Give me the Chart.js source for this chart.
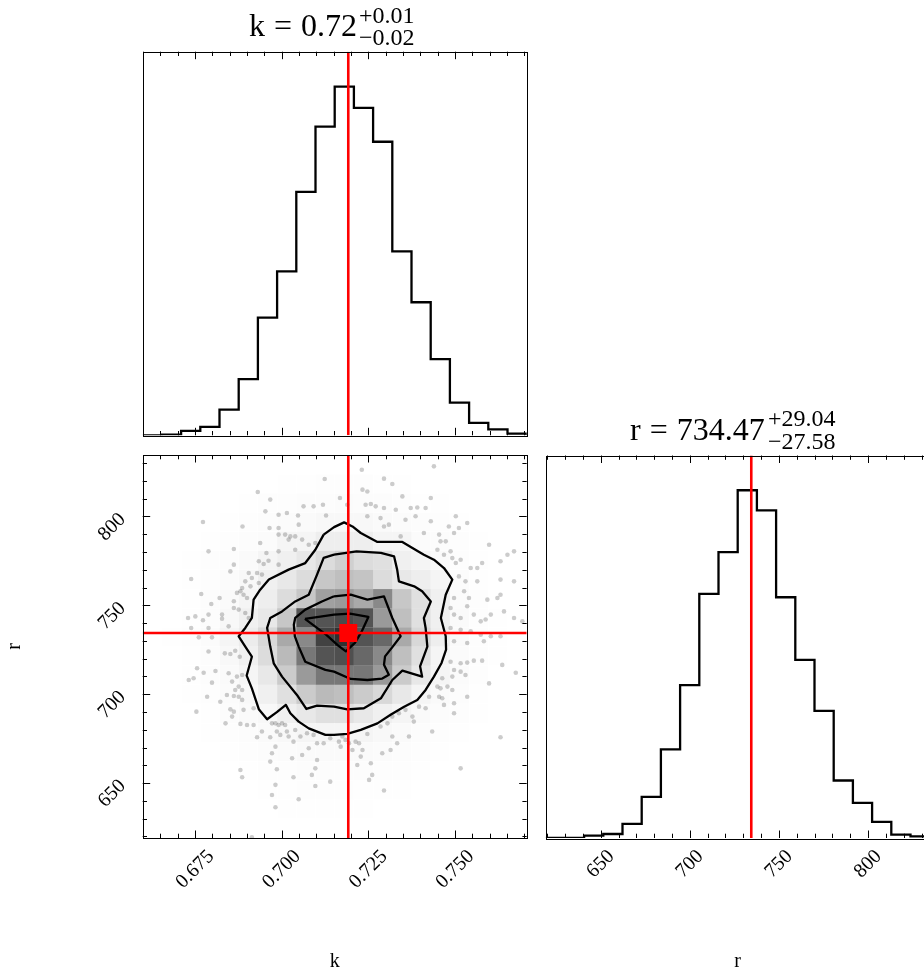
<!DOCTYPE html>
<html>
<head>
<meta charset="utf-8">
<script src="https://cdn.jsdelivr.net/npm/chart.js@4.4.1/dist/chart.umd.min.js"></script>
<style>
  html, body { margin: 0; padding: 0; background: #fff; overflow: hidden; }
  #wrap { position: relative; width: 924px; height: 977px; overflow: hidden; }
  canvas { position: absolute; left: 0; top: 0; }
  .t { position: absolute; font-family: 'Liberation Serif', serif; white-space: nowrap; color: #000; }
  .big { font-size: 32px; line-height: 32px; word-spacing: 1px; }
  .small { font-size: 24px; line-height: 24px; }
</style>
</head>
<body>
<div id="wrap">
  <canvas id="histK" width="924" height="977"></canvas>
  <canvas id="corner2d" width="924" height="977"></canvas>
  <canvas id="histR" width="940" height="977"></canvas>

  <div class="t big" style="left:249px;top:9px">k = 0.72</div>
  <div class="t small" style="left:359px;top:3px">+0.01</div>
  <div class="t small" style="left:359px;top:25px">−0.02</div>

  <div class="t big" style="left:630px;top:413px">r = 734.47</div>
  <div class="t small" style="left:768px;top:406px">+29.04</div>
  <div class="t small" style="left:768px;top:429px">−27.58</div>
</div>
<script>
// rangos y valores centrales
const kRange = [0.65992, 0.77065];
const rRange = [619.1, 834.6];
const nBins = 20;
const kTrue = 0.7192;
const rTrue = 734.47;

// etiquetas de los ejes
const kTicks = [0.675, 0.700, 0.725, 0.750];
const rTicks = [650, 700, 750, 800];

// histogramas 1D (cuentas por bin)
const kCounts = [0, 2, 13, 25, 77, 168, 352, 490, 728, 923, 1043, 979, 878, 550, 398, 228, 98, 37, 18, 5];
const rCounts = [0, 0, 7, 12, 42, 123, 265, 457, 730, 855, 1040, 980, 720, 533, 380, 172, 105, 48, 10, 5];

// densidad 2D relativa (0-100), filas de r alto a r bajo, columnas de k bajo a k alto
const density2d = [
  [0,0,0,0,0,0,0,0,0,0,0,0,0,0,0,0,0,0,0,0],
  [0,0,0,0,0,0,0,5,5,8,8,8,5,5,0,0,0,0,0,0],
  [0,0,0,0,0,5,8,8,10,10,12,10,10,8,5,5,0,0,0,0],
  [0,0,0,0,5,8,10,12,14,16,17,16,14,12,10,8,5,0,0,0],
  [0,0,0,5,8,10,12,20,20,26,26,26,20,20,12,10,8,5,0,0],
  [0,0,5,8,10,14,20,24,30,37,43,37,35,24,20,14,8,5,0,0],
  [0,0,5,8,12,17,24,30,37,47,50,48,37,30,26,20,10,5,0,0],
  [0,0,5,10,14,20,26,37,47,61,63,58,68,47,35,24,12,8,0,0],
  [0,0,5,10,17,24,30,47,82,82,84,82,63,50,35,24,14,8,5,0],
  [0,5,8,12,20,27,39,58,68,86,90,82,77,58,39,26,14,8,5,0],
  [0,0,5,10,17,24,37,52,73,82,83,77,68,50,35,20,12,8,5,0],
  [0,0,5,10,14,20,30,45,63,73,73,73,63,45,30,20,12,8,0,0],
  [0,0,5,8,12,17,24,35,45,52,50,45,39,30,20,14,10,5,0,0],
  [0,0,0,5,10,14,17,24,30,35,35,30,24,20,14,10,8,5,0,0],
  [0,0,0,5,8,10,14,17,20,20,20,20,17,14,10,8,5,0,0,0],
  [0,0,0,0,5,8,10,12,14,14,14,14,12,10,8,5,0,0,0,0],
  [0,0,0,0,0,5,8,8,10,10,10,10,8,8,5,0,0,0,0,0],
  [0,0,0,0,0,0,5,5,8,8,8,5,5,5,0,0,0,0,0,0],
  [0,0,0,0,0,0,0,5,5,5,5,5,0,0,0,0,0,0,0,0],
  [0,0,0,0,0,0,0,0,0,0,0,0,0,0,0,0,0,0,0,0]
];

// contornos (k, r), del exterior al interior
const contour1 = [[0.7121,789.8],[0.7151,794.0],[0.7180,796.7],[0.7204,794.4],[0.7228,790.7],[0.7276,785.7],[0.7348,785.7],[0.7377,782.3],[0.7410,778.5],[0.7439,775.7],[0.7468,771.0],[0.7492,764.5],[0.7473,756.0],[0.7459,742.9],[0.7473,732.6],[0.7474,725.1],[0.7461,717.6],[0.7439,709.9],[0.7415,702.4],[0.7391,696.8],[0.7353,693.0],[0.7314,688.4],[0.7276,683.6],[0.7228,679.9],[0.7189,677.7],[0.7151,677.1],[0.7126,677.1],[0.7078,680.8],[0.7049,684.6],[0.7025,689.3],[0.7012,694.0],[0.6986,689.9],[0.6958,685.9],[0.6934,691.6],[0.6914,703.3],[0.6899,710.5],[0.6914,721.1],[0.6895,726.8],[0.6876,732.6],[0.6895,737.3],[0.6914,742.9],[0.6919,753.2],[0.6938,758.8],[0.6963,764.5],[0.7020,770.1],[0.7068,773.8],[0.7097,781.3],[0.7121,789.8]];
const contour2 = [[0.7151,778.5],[0.7216,780.4],[0.7286,779.5],[0.7324,777.6],[0.7333,770.1],[0.7338,763.5],[0.7382,760.7],[0.7405,757.9],[0.7430,752.2],[0.7410,742.9],[0.7415,737.3],[0.7420,726.8],[0.7399,715.7],[0.7405,709.9],[0.7348,713.3],[0.7319,708.0],[0.7286,697.7],[0.7237,692.1],[0.7189,691.5],[0.7151,693.0],[0.7102,693.6],[0.7071,691.7],[0.7044,699.6],[0.7001,709.9],[0.6977,717.4],[0.6967,726.8],[0.6958,737.3],[0.6967,742.9],[0.7001,746.6],[0.7039,752.2],[0.7078,756.0],[0.7102,767.3],[0.7121,776.7],[0.7151,778.5]];
const contour3 = [[0.7151,755.1],[0.7199,756.0],[0.7247,753.2],[0.7295,755.1],[0.7319,742.9],[0.7343,732.6],[0.7318,726.2],[0.7298,721.3],[0.7295,716.6],[0.7309,711.0],[0.7290,708.8],[0.7247,708.0],[0.7199,708.6],[0.7151,712.7],[0.7126,713.7],[0.7068,718.3],[0.7049,726.8],[0.7038,732.6],[0.7035,739.1],[0.7039,742.9],[0.7068,747.6],[0.7116,752.2],[0.7151,755.1]];
const contour4 = [[0.7067,742.4],[0.7151,744.8],[0.7197,745.3],[0.7250,743.5],[0.7231,735.4],[0.7211,728.9],[0.7185,724.1],[0.7163,727.3],[0.7128,733.5],[0.7067,742.4]];

// muestras visibles fuera del contorno exterior
const sampleK = [
  0.7124,0.6931,0.6967,0.7063,0.7092,0.7119,0.6953,0.6991,0.7015,0.7047,0.7128,0.6773,0.6887,0.6965,0.6991,0.7049,0.6991,0.7010,0.7025,0.7039,
  0.7059,0.7078,0.7097,0.7020,0.6938,0.6956,0.6789,0.6862,0.6991,0.7039,0.6934,0.6962,0.6948,0.6991,0.6862,0.6852,0.6905,0.6929,0.6943,0.6934,
  0.6914,0.6895,0.6910,0.6886,0.6881,0.6890,0.6871,0.6862,0.6900,0.6739,0.6768,0.6821,0.6797,0.6789,0.6828,0.6828,0.6862,0.6876,0.6895,0.6905,
  0.6730,0.6751,0.6773,0.6739,0.6789,0.6847,0.6761,0.6799,
  0.7231,0.7439,0.7295,0.7319,0.7233,0.7247,0.7348,0.7430,0.7168,0.7189,0.7242,0.7257,0.7271,0.7295,0.7329,0.7372,0.7391,0.7415,0.7247,0.7285,
  0.7357,0.7386,0.7430,0.7502,0.7535,0.7295,0.7309,0.7343,0.7410,0.7454,0.7482,0.7497,0.7511,0.7458,0.7473,0.7598,0.7449,0.7468,0.7487,0.7492,
  0.7502,0.7516,0.7545,0.7564,0.7578,0.7631,0.7651,0.7670,0.7511,0.7530,0.7564,0.7631,0.7670,0.7497,0.7526,0.7540,0.7593,0.7622,0.7631,0.7487,
  0.7535,0.7497,0.7516,0.7554,0.7574,0.7588,0.7603,0.7641,0.7670,0.7694,0.7487,0.7516,0.7545,0.7574,0.7603,0.7631,0.7497,0.7535,0.7583,
  0.6789,0.6836,0.6852,0.6866,0.6879,0.6756,0.6775,0.6809,0.6732,0.6746,0.6799,0.6847,0.6871,0.6886,0.6857,0.6876,0.6866,0.6886,0.6842,0.6862,
  0.6876,0.6785,0.6823,0.6886,0.6852,0.6862,0.6857,0.6890,0.6919,0.6754,0.6838,0.6881,0.6900,0.6919,0.6943,0.6929,0.6967,0.6972,0.6982,0.6991,
  0.7001,0.7010,0.6986,0.6996,0.7015,0.7039,0.7020,0.7034,0.7054,0.7073,0.7092,0.7102,0.7121,0.7140,0.6982,0.6972,0.6967,0.6986,0.7059,0.7030,
  0.7102,0.7087,0.7097,0.7034,0.7078,0.6881,0.6886,0.6982,0.6972,0.7049,0.6982,0.7097,0.7140,0.6914,
  0.7487,0.7516,0.7535,0.7554,0.7578,0.7636,0.7675,0.7497,0.7516,0.7530,0.7492,0.7463,0.7598,0.7449,0.7458,0.7478,0.7492,0.7425,0.7454,0.7463,
  0.7535,0.7468,0.7497,0.7396,0.7415,0.7357,0.7338,0.7319,0.7377,0.7381,0.7497,0.7305,0.7285,0.7247,0.7175,0.7165,0.7184,0.7194,0.7213,0.7223,
  0.7170,0.7204,0.7233,0.7228,0.7290,0.7319,0.7333,0.7367,0.7314,0.7434,0.7631,0.7218,0.7257,0.7252,0.7261,0.7295,0.7516
];
const sampleR = [
  821.1,813.8,809.5,805.7,805.7,806.6,802.9,801.0,802.0,800.6,800.6,796.9,794.4,793.5,793.5,795.4,789.8,789.8,788.8,788.8,
  787.0,784.1,785.1,787.0,785.1,779.5,780.4,781.7,780.4,781.3,774.8,775.1,773.3,772.9,772.9,769.1,768.2,768.2,767.3,762.6,
  765.4,763.5,760.7,759.8,757.9,756.0,757.0,752.3,754.1,764.8,756.4,754.1,750.8,744.8,744.8,742.5,748.5,747.6,745.7,742.9,
  742.9,743.8,741.6,737.3,737.3,738.2,732.0,732.0,
  826.3,828.2,821.3,818.3,815.1,814.1,811.3,810.4,810.4,806.6,806.6,807.0,805.7,804.8,803.8,804.8,805.1,804.8,800.1,799.1,
  798.2,800.1,797.3,800.1,796.3,794.4,795.4,788.8,790.7,789.8,794.4,790.7,793.5,786.0,786.0,784.1,781.3,778.5,780.4,776.6,
  773.8,775.7,771.0,771.0,773.8,774.8,778.5,780.4,766.3,763.5,763.5,764.5,763.5,754.1,757.9,754.1,753.2,754.1,756.0,748.5,
  749.5,744.8,742.9,744.8,741.0,742.0,744.8,746.6,742.9,741.0,737.3,736.3,735.4,733.5,732.6,732.6,729.8,728.8,729.8,
  724.0,723.0,722.6,724.5,721.1,714.6,712.1,713.1,708.0,709.0,706.5,711.8,709.9,710.8,707.1,704.3,702.4,702.4,699.6,699.0,
  698.6,698.6,695.8,696.8,691.5,690.2,687.4,691.2,692.1,690.2,683.6,683.3,682.7,682.7,679.0,675.8,675.8,683.6,683.6,682.7,
  683.6,682.7,679.0,677.1,679.0,679.9,676.2,673.3,676.2,678.0,677.1,672.4,672.4,675.2,670.5,666.8,662.1,657.8,665.8,664.0,
  663.0,654.6,658.3,653.3,669.6,657.4,653.3,649.0,643.3,640.9,636.4,648.4,650.8,619.5,
  718.3,717.4,717.8,718.9,718.9,716.5,712.1,713.6,712.7,710.8,709.9,709.0,706.1,704.3,703.3,704.3,702.4,698.6,698.6,697.7,
  698.6,694.0,694.9,693.0,692.1,691.2,689.3,687.4,687.4,684.6,689.3,683.6,681.8,677.6,676.2,673.3,674.3,672.4,673.3,672.4,
  670.5,668.6,668.6,664.9,666.8,676.2,672.4,676.2,668.6,679.0,675.8,660.2,661.2,651.8,654.6,645.8,658.3
];

const serif = 'Liberation Serif';
Chart.defaults.font.family = serif;
Chart.defaults.color = '#000';

function binEdges(range) {
  const w = (range[1] - range[0]) / nBins;
  const e = [];
  for (let i = 0; i <= nBins; i++) e.push(range[0] + i * w);
  return e;
}
const kEdges = binEdges(kRange);
const rEdges = binEdges(rRange);

function stepData(edges, counts) {
  const pts = [{ x: edges[0], y: 0 }];
  counts.forEach((c, i) => pts.push({ x: edges[i], y: c }));
  pts.push({ x: edges[edges.length - 1], y: 0 });
  return pts;
}
const toXY = arr => arr.map(p => ({ x: p[0], y: p[1] }));

const kYMax = 1.1 * Math.max(...kCounts);
const rYMax = 1.1 * Math.max(...rCounts);

// marco y ticks hacia dentro, estilo matplotlib
function drawTicks(ctx, scale, t, a, horiz) {
  const n0 = Math.ceil(scale.min / t.step - 1e-6);
  const n1 = Math.floor(scale.max / t.step + 1e-6);
  ctx.beginPath();
  for (let n = n0; n <= n1; n++) {
    const len = n % t.every === 0 ? 7.5 : 4.3;
    const p = Math.round(scale.getPixelForValue(n * t.step)) + 0.5;
    if (horiz) {
      ctx.moveTo(p, a.bottom); ctx.lineTo(p, a.bottom - len);
      ctx.moveTo(p, a.top); ctx.lineTo(p, a.top + len);
    } else {
      ctx.moveTo(a.left, p); ctx.lineTo(a.left + len, p);
      ctx.moveTo(a.right, p); ctx.lineTo(a.right - len, p);
    }
  }
  ctx.stroke();
}
function framePlugin(cfg) {
  return {
    id: 'frame',
    afterDatasetsDraw(chart) {
      const { ctx, chartArea: a, scales } = chart;
      ctx.save();
      ctx.strokeStyle = '#000';
      ctx.lineWidth = 1;
      if (cfg.x) drawTicks(ctx, scales.x, cfg.x, a, true);
      if (cfg.y) drawTicks(ctx, scales.y, cfg.y, a, false);
      ctx.strokeRect(Math.round(a.left) + 0.5, Math.round(a.top) + 0.5,
                     Math.round(a.right - a.left), Math.round(a.bottom - a.top));
      ctx.restore();
    }
  };
}

// celdas del histograma 2D en gris
const cellsPlugin = {
  id: 'cells',
  beforeDatasetsDraw(chart) {
    const { ctx, chartArea: a, scales: { x, y } } = chart;
    ctx.save();
    ctx.beginPath();
    ctx.rect(a.left, a.top, a.right - a.left, a.bottom - a.top);
    ctx.clip();
    density2d.forEach((row, j) => {
      const rb = nBins - 1 - j;
      row.forEach((u, i) => {
        if (!u) return;
        const x0 = x.getPixelForValue(kEdges[i]);
        const x1 = x.getPixelForValue(kEdges[i + 1]);
        const y0 = y.getPixelForValue(rEdges[rb + 1]);
        const y1 = y.getPixelForValue(rEdges[rb]);
        ctx.fillStyle = 'rgba(0,0,0,' + (u / 100) * (u / 100) + ')';
        ctx.fillRect(x0, y0, x1 - x0, y1 - y0);
      });
    });
    ctx.restore();
  }
};

const red = { borderColor: '#ff0000', borderWidth: 2.6, pointRadius: 0, showLine: true };
const tickFont = { family: serif, size: 20 };
const titleFont = { family: serif, size: 20 };
const baseOpts = {
  responsive: false,
  animation: false,
  devicePixelRatio: 1,
  events: [],
  plugins: { legend: { display: false }, tooltip: { enabled: false } }
};

// Histograma de k
new Chart(document.getElementById('histK'), {
  type: 'line',
  data: {
    datasets: [
      { data: [{ x: kTrue, y: 0 }, { x: kTrue, y: kYMax }], ...red, order: 0 },
      { data: stepData(kEdges, kCounts), borderColor: '#000', borderWidth: 2.3, pointRadius: 0, stepped: true, order: 1 }
    ]
  },
  options: {
    ...baseOpts,
    layout: { padding: { left: 142.7, top: 51.7, right: 397.3, bottom: 541.7 } },
    scales: {
      x: { type: 'linear', min: kRange[0], max: kRange[1], display: false },
      y: { min: 0, max: kYMax, display: false }
    }
  },
  plugins: [framePlugin({ x: { step: 0.005, every: 5 } })]
});

// Panel 2D k-r
new Chart(document.getElementById('corner2d'), {
  type: 'scatter',
  data: {
    datasets: [
      { data: [{ x: kTrue, y: rTrue }], pointStyle: 'rect', pointRadius: 12.7, backgroundColor: '#ff0000', borderWidth: 0, order: 0 },
      { data: [{ x: kTrue, y: rRange[0] }, { x: kTrue, y: rRange[1] }], ...red, order: 1 },
      { data: [{ x: kRange[0], y: rTrue }, { x: kRange[1], y: rTrue }], ...red, order: 1 },
      ...[contour1, contour2, contour3, contour4].map(c => ({
        data: toXY(c), showLine: true, borderColor: '#000', borderWidth: 2.3,
        borderJoinStyle: 'round', pointRadius: 0, order: 2
      })),
      { data: sampleK.map((k, i) => ({ x: k, y: sampleR[i] })), pointRadius: 2.3,
        backgroundColor: 'rgba(0,0,0,0.2)', borderWidth: 0, order: 3 }
    ]
  },
  options: {
    ...baseOpts,
    layout: { padding: { left: 0, top: 455, right: 397.3, bottom: 0 } },
    scales: {
      x: {
        type: 'linear', position: 'bottom', min: kRange[0], max: kRange[1],
        grid: { display: false, drawTicks: false }, border: { display: false },
        afterBuildTicks: s => { s.ticks = kTicks.map(v => ({ value: v })); },
        afterFit: s => { s.height = 139; },
        ticks: { autoSkip: false, minRotation: 45, maxRotation: 45, padding: 7, labelOffset: 16,
                 color: '#000', font: tickFont, callback: (v, i) => kTicks[i].toFixed(3) },
        title: { display: true, text: 'k', color: '#000', font: titleFont, padding: { top: 0, bottom: 3 } }
      },
      y: {
        type: 'linear', position: 'left', min: rRange[0], max: rRange[1],
        grid: { display: false, drawTicks: false }, border: { display: false },
        afterBuildTicks: s => { s.ticks = rTicks.map(v => ({ value: v })); },
        afterFit: s => { s.width = 142.7; },
        ticks: { autoSkip: false, minRotation: 45, maxRotation: 45, padding: 20, labelOffset: 0,
                 color: '#000', font: tickFont, callback: (v, i) => String(rTicks[i]) },
        title: { display: true, text: 'r', color: '#000', font: titleFont, padding: { top: 3, bottom: 0 } }
      }
    }
  },
  plugins: [cellsPlugin, framePlugin({ x: { step: 0.005, every: 5 }, y: { step: 10, every: 5 } })]
});

// Histograma de r
new Chart(document.getElementById('histR'), {
  type: 'line',
  data: {
    datasets: [
      { data: [{ x: rTrue, y: 0 }, { x: rTrue, y: rYMax }], ...red, order: 0 },
      { data: stepData(rEdges, rCounts), borderColor: '#000', borderWidth: 2.3, pointRadius: 0, stepped: true, order: 1 }
    ]
  },
  options: {
    ...baseOpts,
    layout: { padding: { left: 545.7, top: 455.5, right: 10.3, bottom: 0 } },
    scales: {
      x: {
        type: 'linear', position: 'bottom', min: rRange[0], max: rRange[1],
        grid: { display: false, drawTicks: false }, border: { display: false },
        afterBuildTicks: s => { s.ticks = rTicks.map(v => ({ value: v })); },
        afterFit: s => { s.height = 139; },
        ticks: { autoSkip: false, minRotation: 45, maxRotation: 45, padding: 7, labelOffset: 10.6,
                 color: '#000', font: tickFont, callback: (v, i) => String(rTicks[i]) },
        title: { display: true, text: 'r', color: '#000', font: titleFont, padding: { top: 0, bottom: 3 } }
      },
      y: { min: 0, max: rYMax, display: false }
    }
  },
  plugins: [framePlugin({ x: { step: 10, every: 5 } })]
});
</script>
</body>
</html>
